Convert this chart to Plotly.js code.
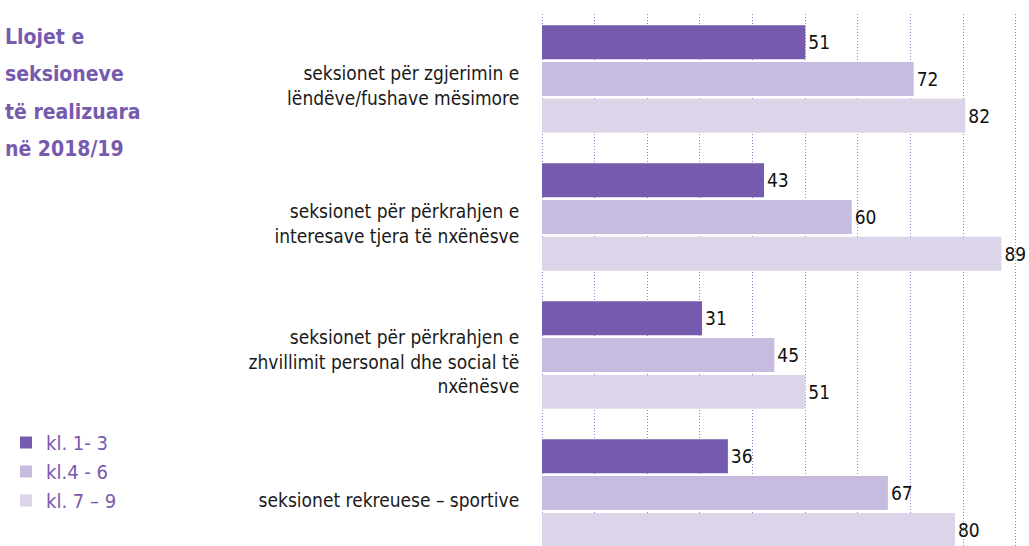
<!DOCTYPE html>
<html>
<head>
<meta charset="utf-8">
<script src="https://cdn.plot.ly/plotly-3.0.1.min.js"></script>
<style>html,body{margin:0;padding:0;background:#fff;}#chart{width:1029px;height:546px;}</style>
</head>
<body>
<div id="chart"></div>
<script>
// ---- data ----
const categories = [
  "seksionet për zgjerimin e<br>lëndëve/fushave mësimore",
  "seksionet për përkrahjen e<br>interesave tjera të nxënësve",
  "seksionet për përkrahjen e<br>zhvillimit personal dhe social të<br>nxënësve",
  "seksionet rekreuese – sportive"
];
const seriesNames = ["kl. 1- 3", "kl.4 - 6", "kl. 7 – 9"];
const kl1_3 = [51, 43, 31, 36];
const kl4_6 = [72, 60, 45, 67];
const kl7_9 = [82, 89, 51, 80];
const titleLines = ["Llojet e", "seksioneve", "të realizuara", "në 2018/19"];

// ---- layout constants ----
const W = 1029, H = 546, ML = 541, MR = 10, MT = 14, MB = 0;
const PW = W - ML - MR, PH = H - MT - MB;
const px2x = x => (x - ML) / PW;
const px2y = y => (H - MB - y) / PH;
const FONT = "'DejaVu Sans Condensed', 'DejaVu Sans', sans-serif";
const PURPLE = "#765aae";
const colors = ["#765aae", "#c7bcdf", "#dcd5ea"];
const values = [kl1_3, kl4_6, kl7_9];

const traces = values.map((v, i) => ({
  type: "bar",
  orientation: "h",
  name: seriesNames[i],
  y: categories,
  x: v,
  text: v.map(String),
  textposition: "outside",
  cliponaxis: false,
  constraintext: "none",
  textfont: {family: FONT, size: 19, color: "#111"},
  marker: {color: colors[i]},
  hoverinfo: "x+name"
}));

const annotations = titleLines.map((t, i) => ({
  text: "<b>" + t + "</b>",
  xref: "paper", yref: "paper",
  x: px2x(3), y: px2y([37, 74, 112, 149][i]),
  xanchor: "left", yanchor: "middle",
  showarrow: false,
  font: {family: FONT, size: 21, color: PURPLE}
}));

const layout = {
  width: W, height: H,
  margin: {l: ML, r: MR, t: MT, b: MB, pad: 0},
  paper_bgcolor: "#fff", plot_bgcolor: "#fff",
  barmode: "group",
  bargap: 0.2,
  bargroupgap: 0.08,
  font: {family: FONT, color: "#1a1a1a"},
  xaxis: {
    range: [-0.2, 92.4],
    tick0: 0, dtick: 10.2,
    showgrid: true, gridcolor: "#9884cf", gridwidth: 1, griddash: "1px,2px",
    zeroline: false, showline: false, showticklabels: false, ticks: ""
  },
  yaxis: {
    type: "category",
    range: [3.384, -0.471],
    showgrid: false, zeroline: false, showline: false,
    ticks: "outside", ticklen: 17, tickcolor: "rgba(0,0,0,0)",
    ticklabelshift: -7,
    tickfont: {family: FONT, size: 19, color: "#1a1a1a"}
  },
  showlegend: true,
  legend: {
    x: px2x(6), y: px2y(423), xanchor: "left", yanchor: "top",
    xref: "paper", yref: "paper",
    font: {family: FONT, size: 20, color: PURPLE},
    traceorder: "normal",
    tracegroupgap: 0,
    itemclick: false
  },
  annotations: annotations
};

Plotly.newPlot("chart", traces, layout, {displayModeBar: false, staticPlot: true});
</script>
</body>
</html>
